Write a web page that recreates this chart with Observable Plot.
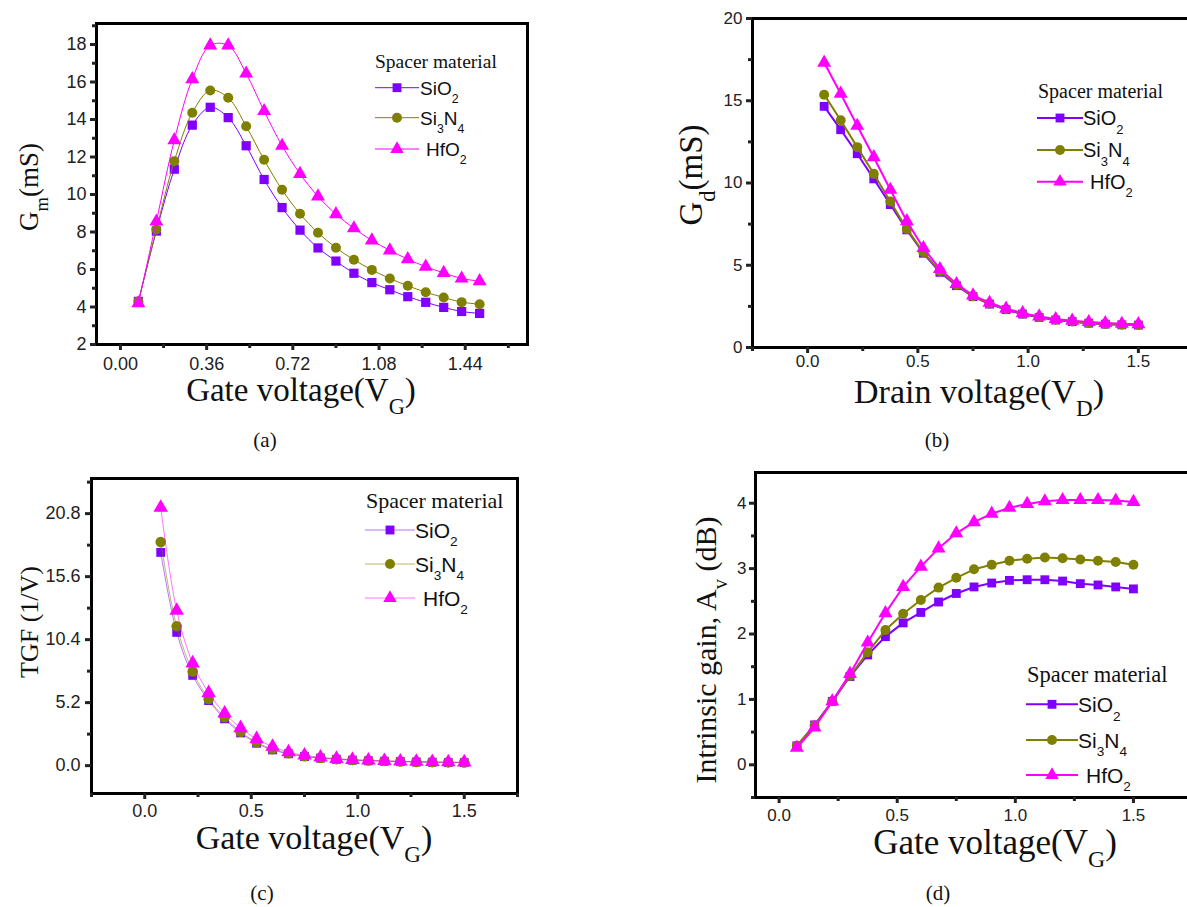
<!DOCTYPE html>
<html><head><meta charset="utf-8">
<script src="https://cdn.jsdelivr.net/npm/d3@7"></script>
<script src="https://cdn.jsdelivr.net/npm/@observablehq/plot@0.6"></script>
<style>
html,body{margin:0;padding:0;background:#fff;overflow:hidden}
#wrap{position:relative;width:1187px;height:907px;overflow:hidden;background:#fff}
#wrap > svg{position:absolute}
</style></head><body><div id="wrap"></div>
<script>
// ---------- data ----------
const seriesNames = ["SiO2", "Si3N4", "HfO2"];
const seriesColors = ["#8000ff", "#808000", "#ff00ff"];
const seriesSymbols = ["square", "circle", "triangle"];

const gateV  = [0.075, 0.15, 0.225, 0.3, 0.375, 0.45, 0.525, 0.6, 0.675, 0.75, 0.825, 0.9, 0.975, 1.05, 1.125, 1.2, 1.275, 1.35, 1.425, 1.5];
const drainV = [0.075, 0.15, 0.225, 0.3, 0.375, 0.45, 0.525, 0.6, 0.675, 0.75, 0.825, 0.9, 0.975, 1.05, 1.125, 1.2, 1.275, 1.35, 1.425, 1.5];

// (a) Gm (mS)
const gmSiO2  = [4.3, 8.05, 11.35, 13.7, 14.65, 14.1, 12.6, 10.8, 9.3, 8.1, 7.15, 6.45, 5.8, 5.3, 4.92, 4.55, 4.25, 3.98, 3.76, 3.66];
const gmSi3N4 = [4.3, 8.13, 11.78, 14.36, 15.55, 15.16, 13.64, 11.85, 10.25, 8.97, 7.96, 7.16, 6.52, 5.98, 5.52, 5.13, 4.79, 4.51, 4.26, 4.15];
const gmHfO2  = [4.2, 8.56, 12.9, 16.15, 17.95, 17.95, 16.45, 14.45, 12.6, 11.1, 9.9, 8.95, 8.2, 7.55, 7.02, 6.55, 6.15, 5.82, 5.52, 5.38];
// (b) Gd (mS)
const gdSiO2  = [14.66, 13.24, 11.78, 10.25, 8.69, 7.15, 5.73, 4.57, 3.76, 3.09, 2.64, 2.30, 2.03, 1.83, 1.67, 1.57, 1.48, 1.42, 1.38, 1.36];
const gdSi3N4 = [15.37, 13.81, 12.18, 10.56, 8.87, 7.21, 5.79, 4.63, 3.80, 3.12, 2.66, 2.32, 2.05, 1.85, 1.69, 1.58, 1.49, 1.43, 1.39, 1.37];
const gdHfO2  = [17.32, 15.43, 13.48, 11.57, 9.59, 7.68, 6.05, 4.77, 3.86, 3.17, 2.72, 2.36, 2.09, 1.89, 1.73, 1.63, 1.55, 1.49, 1.44, 1.42];
// (c) TGF (1/V)
const tgfSiO2  = [17.6, 11.0, 7.45, 5.37, 3.86, 2.7, 1.85, 1.3, 0.98, 0.75, 0.62, 0.52, 0.45, 0.4, 0.36, 0.33, 0.3, 0.28, 0.26, 0.25];
const tgfSi3N4 = [18.45, 11.5, 7.77, 5.5, 4.0, 2.8, 1.93, 1.35, 1.02, 0.78, 0.64, 0.54, 0.47, 0.42, 0.38, 0.34, 0.31, 0.29, 0.27, 0.26];
const tgfHfO2  = [21.3, 12.8, 8.45, 6.0, 4.32, 3.11, 2.2, 1.57, 1.12, 0.85, 0.68, 0.57, 0.49, 0.44, 0.4, 0.36, 0.33, 0.31, 0.29, 0.28];
// (d) Intrinsic gain Av (dB)
const avSiO2  = [0.29, 0.61, 0.97, 1.35, 1.68, 1.96, 2.17, 2.33, 2.49, 2.62, 2.72, 2.78, 2.82, 2.83, 2.83, 2.81, 2.77, 2.75, 2.72, 2.69];
const avSi3N4 = [0.29, 0.60, 0.97, 1.36, 1.72, 2.06, 2.31, 2.52, 2.71, 2.86, 2.99, 3.06, 3.12, 3.15, 3.17, 3.16, 3.14, 3.12, 3.10, 3.06];
const avHfO2  = [0.26, 0.57, 0.97, 1.39, 1.87, 2.32, 2.72, 3.03, 3.31, 3.54, 3.71, 3.84, 3.93, 3.99, 4.03, 4.05, 4.05, 4.05, 4.04, 4.02];

// tick values
const aXTicks = [0, 0.36, 0.72, 1.08, 1.44], aXMinor = [0.18, 0.54, 0.9, 1.26, 1.62];
const aYTicks = [2, 4, 6, 8, 10, 12, 14, 16, 18], aYMinor = [3, 5, 7, 9, 11, 13, 15, 17, 19];
const bXTicks = [0, 0.5, 1, 1.5], bXMinor = [-0.25, 0.25, 0.75, 1.25, 1.75];
const bYTicks = [0, 5, 10, 15, 20], bYMinor = [2.5, 7.5, 12.5, 17.5];
const cXTicks = [0, 0.5, 1, 1.5], cXMinor = [-0.25, 0.25, 0.75, 1.25, 1.75];
const cYTicks = [0, 5.2, 10.4, 15.6, 20.8], cYMinor = [2.6, 7.8, 13, 18.2, 23.4];
const dXTicks = [0, 0.5, 1, 1.5], dXMinor = [0.25, 0.75, 1.25, 1.75];
const dYTicks = [0, 1, 2, 3, 4], dYMinor = [-0.5, 0.5, 1.5, 2.5, 3.5];

// ---------- drawing ----------
const wrap = document.getElementById("wrap");
const SANS = "'Liberation Sans', Arial, sans-serif";
const SERIF = "'Liberation Serif', 'Times New Roman', serif";

function panel(cfg) {
  const marks = [];
  seriesNames.forEach((s, k) => {
    const d = cfg.xs.map((x, i) => ({s, x, y: cfg.ys[k][i]}));
    marks.push(Plot.line(d, {x: "x", y: "y", stroke: seriesColors[k], strokeWidth: cfg.lw, strokeOpacity: cfg.lo, curve: cfg.curve}));
    marks.push(Plot.dot(d, {x: "x", y: "y", symbol: seriesSymbols[k], fill: seriesColors[k], r: cfg.r[k]}));
  });
  marks.push(Plot.frame({stroke: "#000", strokeWidth: 3}));
  marks.push(Plot.axisX(cfg.xt, {tickSize: 6, tickPadding: cfg.xPad, strokeWidth: 3, tickFormat: d3.format(cfg.xFmt), label: null}));
  marks.push(Plot.axisX(cfg.xm, {tickSize: 4, strokeWidth: 3, tickFormat: () => "", label: null}));
  marks.push(Plot.axisY(cfg.yt, {tickSize: 6, tickPadding: cfg.yPad, strokeWidth: 3, tickFormat: d3.format(cfg.yFmt), label: null}));
  marks.push(Plot.axisY(cfg.ym, {tickSize: 4, strokeWidth: 3, tickFormat: () => "", label: null}));
  const svg = Plot.plot({
    width: cfg.w, height: cfg.h,
    marginLeft: cfg.m[0], marginRight: cfg.m[1], marginTop: cfg.m[2], marginBottom: cfg.m[3],
    x: {domain: cfg.xd, label: null},
    y: {domain: cfg.yd, label: null},
    style: {fontFamily: SANS, fontSize: cfg.fs + "px", color: "#222", background: "transparent", overflow: "visible"},
    marks
  });
  svg.style.left = cfg.left + "px";
  svg.style.top = cfg.top + "px";
  wrap.appendChild(svg);
}

panel({left: 0, top: 0, w: 560, h: 460, m: [96, 33, 23, 116], xs: gateV, ys: [gmSiO2, gmSi3N4, gmHfO2],
  xd: [-0.1, 1.7], yd: [2, 19.12], xt: aXTicks, xm: aXMinor, yt: aYTicks, ym: aYMinor,
  xFmt: ".2f", yFmt: "d", fs: 18, xPad: 7, yPad: 4, lw: 1, lo: 1, curve: "catmull-rom", r: [5.2, 5, 5.2]});
panel({left: 600, top: 0, w: 600, h: 460, m: [152, 7, 18, 113], xs: drainV, ys: [gdSiO2, gdSi3N4, gdHfO2],
  xd: [-0.25, 1.75], yd: [0, 20], xt: bXTicks, xm: bXMinor, yt: bYTicks, ym: bYMinor,
  xFmt: ".1f", yFmt: "d", fs: 17, xPad: 1, yPad: 4, lw: 2, lo: 1, curve: "linear", r: [5, 5, 5.2]});
panel({left: 0, top: 460, w: 560, h: 447, m: [91, 43, 18, 114], xs: gateV, ys: [tgfSiO2, tgfSi3N4, tgfHfO2],
  xd: [-0.25, 1.75], yd: [-2.3, 23.7], xt: cXTicks, xm: cXMinor, yt: cYTicks, ym: cYMinor,
  xFmt: ".1f", yFmt: ".1f", fs: 18, xPad: 5, yPad: 5, lw: 1, lo: 0.55, curve: "catmull-rom", r: [5, 5.3, 5.4]});
panel({left: 600, top: 460, w: 600, h: 447, m: [155, 8, 12, 110], xs: gateV, ys: [avSiO2, avSi3N4, avHfO2],
  xd: [-0.1, 1.75], yd: [-0.5, 4.47], xt: dXTicks, xm: dXMinor, yt: dYTicks, ym: dYMinor,
  xFmt: ".1f", yFmt: "d", fs: 17, xPad: 5, yPad: 3, lw: 2, lo: 1, curve: "linear", r: [5, 5, 5.2]});

// ---------- text overlay: titles, legends, captions ----------
const ov = d3.select(wrap).append("svg").attr("width", 1187).attr("height", 907).style("left", "0px").style("top", "0px");

function rich(x, y, parts, o) {
  const t = ov.append("text").attr("x", x).attr("y", y)
    .attr("font-family", o.family).attr("font-size", o.size).attr("fill", "#111")
    .attr("text-anchor", o.anchor || "start");
  if (o.rotate) t.attr("transform", `rotate(-90 ${x} ${y})`);
  const sh = o.size * (o.subShift || 0.38);
  let down = false;
  parts.forEach(p => {
    const sub = Array.isArray(p);
    const ts = t.append("tspan").text(sub ? p[0] : p);
    if (sub) { ts.attr("font-size", o.size * (o.subSize || 0.68)); if (!down) { ts.attr("dy", sh); down = true; } }
    else if (down) { ts.attr("dy", -sh); down = false; }
  });
}

const legendLabels = [["SiO", ["2"]], ["Si", ["3"], "N", ["4"]], ["HfO", ["2"]]];
function legend(L) {
  rich(L.tx, L.ty, ["Spacer material"], {family: SERIF, size: L.ts});
  L.rows.forEach((ry, k) => {
    ov.append("line").attr("x1", L.x1).attr("x2", L.x2).attr("y1", ry).attr("y2", ry)
      .attr("stroke", seriesColors[k]).attr("stroke-width", L.lw).attr("stroke-opacity", L.lo);
    const sym = [d3.symbolSquare, d3.symbolCircle, d3.symbolTriangle][k];
    ov.append("path").attr("d", d3.symbol(sym, Math.PI * L.r * L.r)())
      .attr("transform", `translate(${(L.x1 + L.x2) / 2},${ry})`).attr("fill", seriesColors[k]);
    rich(L.textX[k], ry + L.fs * 0.36, legendLabels[k], {family: SANS, size: L.fs, subShift: 0.42, subSize: 0.65});
  });
}

legend({tx: 375, ty: 68, ts: 19.5, rows: [87.7, 117.7, 149], x1: 375, x2: 419, lw: 1, lo: 1, r: 5, fs: 19, textX: [420, 420, 426]});
legend({tx: 1038, ty: 98, ts: 20, rows: [118, 150, 181.7], x1: 1037, x2: 1083, lw: 2, lo: 1, r: 5, fs: 20, textX: [1083, 1083, 1090]});
legend({tx: 366, ty: 508, ts: 22, rows: [530, 564, 598], x1: 365, x2: 415, lw: 1, lo: 0.55, r: 5, fs: 21, textX: [415, 415, 423]});
legend({tx: 1027, ty: 682, ts: 22.5, rows: [704.3, 740, 775], x1: 1026, x2: 1078, lw: 2, lo: 1, r: 5, fs: 21, textX: [1078, 1078, 1086]});

// axis titles
rich(301, 401, ["Gate voltage(V", ["G"], ")"], {family: SERIF, size: 33, anchor: "middle"});
rich(979, 403, ["Drain voltage(V", ["D"], ")"], {family: SERIF, size: 34, anchor: "middle"});
rich(314, 849, ["Gate voltage(V", ["G"], ")"], {family: SERIF, size: 34, anchor: "middle"});
rich(995, 854, ["Gate voltage(V", ["G"], ")"], {family: SERIF, size: 35, anchor: "middle"});
rich(38, 187, ["G", ["m"], "(mS)"], {family: SERIF, size: 27, anchor: "middle", rotate: true});
rich(702, 175, ["G", ["d"], "(mS)"], {family: SERIF, size: 33, anchor: "middle", rotate: true});
rich(38, 622, ["TGF (1/V)"], {family: SERIF, size: 26, anchor: "middle", rotate: true});
rich(716, 650, ["Intrinsic gain, A", ["v"], " (dB)"], {family: SERIF, size: 30, anchor: "middle", rotate: true});

// captions
rich(265, 447, ["(a)"], {family: SERIF, size: 21, anchor: "middle"});
rich(937, 447, ["(b)"], {family: SERIF, size: 21, anchor: "middle"});
rich(262, 900, ["(c)"], {family: SERIF, size: 21, anchor: "middle"});
rich(938, 900, ["(d)"], {family: SERIF, size: 21, anchor: "middle"});
</script>
</body></html>
